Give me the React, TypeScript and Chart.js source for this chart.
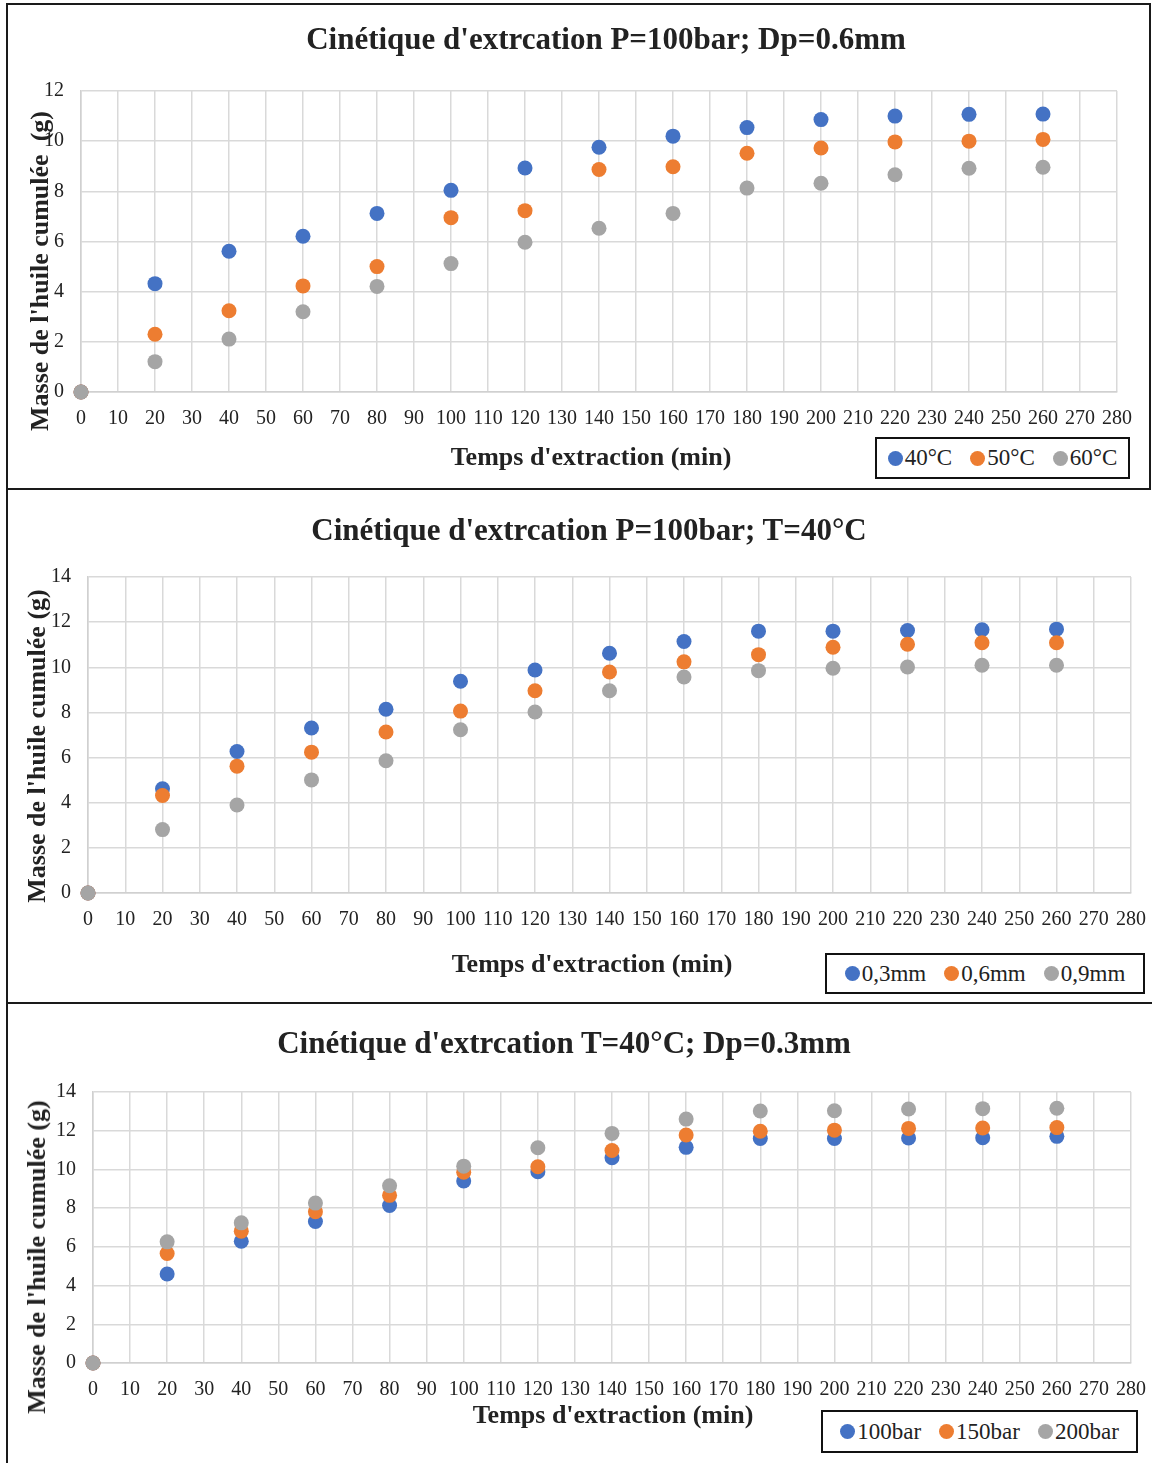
import React, { useEffect, useRef } from "react";
import { Chart, registerables } from "chart.js";
Chart.register(...registerables);

// ---------- data ----------
const timeMin = [0, 20, 40, 60, 80, 100, 120, 140, 160, 180, 200, 220, 240, 260];

const chart1Title = "Cinétique d'extrcation P=100bar; Dp=0.6mm";
const chart1Labels = ["40°C", "50°C", "60°C"];
const temp40 = [0, 4.32, 5.61, 6.21, 7.12, 8.04, 8.93, 9.76, 10.2, 10.54, 10.86, 11.0, 11.07, 11.08];
const temp50 = [0, 2.3, 3.24, 4.23, 5.0, 6.95, 7.23, 8.87, 8.98, 9.52, 9.73, 9.97, 10.0, 10.07];
const temp60 = [0, 1.21, 2.11, 3.2, 4.21, 5.12, 5.97, 6.53, 7.12, 8.13, 8.32, 8.66, 8.92, 8.96];

const chart2Title = "Cinétique d'extrcation P=100bar; T=40°C";
const chart2Labels = ["0,3mm", "0,6mm", "0,9mm"];
const dp03 = [0, 4.62, 6.27, 7.31, 8.14, 9.38, 9.88, 10.62, 11.14, 11.6, 11.6, 11.63, 11.66, 11.69];
const dp06 = [0, 4.32, 5.62, 6.24, 7.13, 8.06, 8.96, 9.79, 10.24, 10.56, 10.89, 11.02, 11.09, 11.09];
const dp09 = [0, 2.81, 3.9, 5.01, 5.86, 7.23, 8.02, 8.96, 9.57, 9.85, 9.96, 10.01, 10.09, 10.09];

const chart3Title = "Cinétique d'extrcation T=40°C; Dp=0.3mm";
const chart3Labels = ["100bar", "150bar", "200bar"];
const p100 = [0, 4.6, 6.29, 7.31, 8.14, 9.4, 9.88, 10.6, 11.14, 11.6, 11.6, 11.62, 11.64, 11.71];
const p150 = [0, 5.66, 6.81, 7.81, 8.66, 9.86, 10.14, 10.98, 11.78, 11.97, 12.03, 12.12, 12.14, 12.16];
const p200 = [0, 6.26, 7.24, 8.26, 9.16, 10.17, 11.12, 11.86, 12.6, 13.02, 13.03, 13.12, 13.14, 13.16];

const xAxisTitle = "Temps d'extraction (min)";
const yAxisTitle1 = "Masse de l'huile cumulée  (g)";
const yAxisTitle = "Masse de l'huile cumulée (g)";

const colors = ["#4472C4", "#ED7D31", "#A5A5A5"];
const FONT = "'Liberation Serif', 'Times New Roman', serif";
const TEXT = "#222222";

type Block = {
  top: number;
  height: number;
  pad: { left: number; right: number; top: number; bottom: number };
  yMax: number;
  series: number[][];
  labels: string[];
};

function ScatterCanvas({ b }: { b: Block }) {
  const ref = useRef<HTMLCanvasElement | null>(null);
  useEffect(() => {
    if (!ref.current) return;
    const chart = new Chart(ref.current, {
      type: "scatter",
      data: {
        datasets: b.series.map((s, i) => ({
          label: b.labels[i],
          data: timeMin.map((t, j) => ({ x: t, y: s[j] })),
          backgroundColor: colors[i],
          borderColor: colors[i],
          pointRadius: 7.5,
          pointBorderWidth: 0,
          showLine: false,
          clip: false as any,
          order: 3 - i,
        })),
      },
      options: {
        animation: false,
        responsive: false,
        layout: { padding: b.pad },
        plugins: { legend: { display: false }, title: { display: false }, tooltip: { enabled: false } },
        scales: {
          x: {
            type: "linear",
            min: 0,
            max: 280,
            afterFit: (s: any) => {
              s.height = 40;
              s.paddingLeft = 0;
              s.paddingRight = 0;
            },
            ticks: {
              stepSize: 10,
              autoSkip: false,
              maxRotation: 0,
              padding: 15,
              color: TEXT,
              font: { family: FONT, size: 20 },
            },
            grid: { color: "#d9d9d9", lineWidth: 1.5, drawTicks: false },
            border: { color: "#d0d0d0", width: 1.5 },
          },
          y: {
            type: "linear",
            min: 0,
            max: b.yMax,
            afterFit: (s: any) => {
              s.width = 50;
              s.paddingTop = 0;
              s.paddingBottom = 0;
            },
            ticks: {
              stepSize: 2,
              padding: 17,
              color: TEXT,
              font: { family: FONT, size: 20 },
            },
            grid: { color: "#d9d9d9", lineWidth: 1.5, drawTicks: false },
            border: { color: "#d0d0d0", width: 1.5 },
          },
        },
      },
    });
    return () => chart.destroy();
  }, []);
  return (
    <canvas
      ref={ref}
      width={1152}
      height={b.height}
      style={{ position: "absolute", left: 0, top: b.top, width: 1152, height: b.height }}
    />
  );
}

function Txt({ x, y, size, bold, text, rotate }: { x: number; y: number; size: number; bold?: boolean; text: string; rotate?: boolean }) {
  return (
    <div
      style={{
        position: "absolute",
        left: x,
        top: y,
        transform: `translate(-50%, -50%)${rotate ? " rotate(-90deg)" : ""}`,
        fontFamily: FONT,
        fontSize: size,
        fontWeight: bold ? "bold" : "normal",
        color: TEXT,
        whiteSpace: "pre",
        lineHeight: 1,
      }}
    >
      {text}
    </div>
  );
}

function Legend({ left, top, width, height, labels }: { left: number; top: number; width: number; height: number; labels: string[] }) {
  return (
    <div
      style={{
        position: "absolute",
        left,
        top,
        width,
        height,
        boxSizing: "border-box",
        border: "2px solid #111",
        display: "flex",
        alignItems: "center",
        justifyContent: "center",
        gap: 18,
        fontFamily: FONT,
        fontSize: 23,
        color: TEXT,
        background: "#fff",
      }}
    >
      {labels.map((l, i) => (
        <div key={l} style={{ display: "flex", alignItems: "center" }}>
          <span style={{ display: "inline-block", width: 15, height: 15, borderRadius: "50%", background: colors[i], marginRight: 2 }} />
          <span>{l}</span>
        </div>
      ))}
    </div>
  );
}

const block1: Block = { top: 0, height: 490, pad: { left: 31, right: 35, top: 91, bottom: 58 }, yMax: 12, series: [temp40, temp50, temp60], labels: chart1Labels };
const block2: Block = { top: 490, height: 513, pad: { left: 38, right: 21, top: 87, bottom: 70 }, yMax: 14, series: [dp03, dp06, dp09], labels: chart2Labels };
const block3: Block = { top: 1003, height: 460, pad: { left: 43, right: 21, top: 89, bottom: 60 }, yMax: 14, series: [p100, p150, p200], labels: chart3Labels };

export default function App() {
  return (
    <div style={{ position: "absolute", left: 0, top: 0, width: 1152, height: 1463, background: "#fff", overflow: "hidden" }}>
      <ScatterCanvas b={block1} />
      <ScatterCanvas b={block2} />
      <ScatterCanvas b={block3} />

      {/* frames */}
      <div style={{ position: "absolute", left: 6, top: 3, width: 1145, height: 487, boxSizing: "border-box", border: "2px solid #1a1a1a" }} />
      <div style={{ position: "absolute", left: 6, top: 488, width: 1146, height: 516, boxSizing: "border-box", borderLeft: "2px solid #1a1a1a", borderBottom: "2px solid #1a1a1a" }} />
      <div style={{ position: "absolute", left: 6, top: 1002, width: 2, height: 461, background: "#1a1a1a" }} />

      {/* chart 1 texts */}
      <Txt x={606} y={38} size={31} bold text={chart1Title} />
      <Txt x={40} y={271} size={26} bold rotate text={yAxisTitle1} />
      <Txt x={591} y={457} size={26} bold text={xAxisTitle} />
      <Legend left={875} top={437} width={255} height={42} labels={chart1Labels} />

      {/* chart 2 texts */}
      <Txt x={589} y={529} size={31} bold text={chart2Title} />
      <Txt x={37} y={746} size={26} bold rotate text={yAxisTitle} />
      <Txt x={592} y={964} size={26} bold text={xAxisTitle} />
      <Legend left={825} top={953} width={320} height={41} labels={chart2Labels} />

      {/* chart 3 texts */}
      <Txt x={564} y={1042} size={31} bold text={chart3Title} />
      <Txt x={37} y={1257} size={26} bold rotate text={yAxisTitle} />
      <Txt x={613} y={1415} size={26} bold text={xAxisTitle} />
      <Legend left={821} top={1410} width={317} height={43} labels={chart3Labels} />
    </div>
  );
}
